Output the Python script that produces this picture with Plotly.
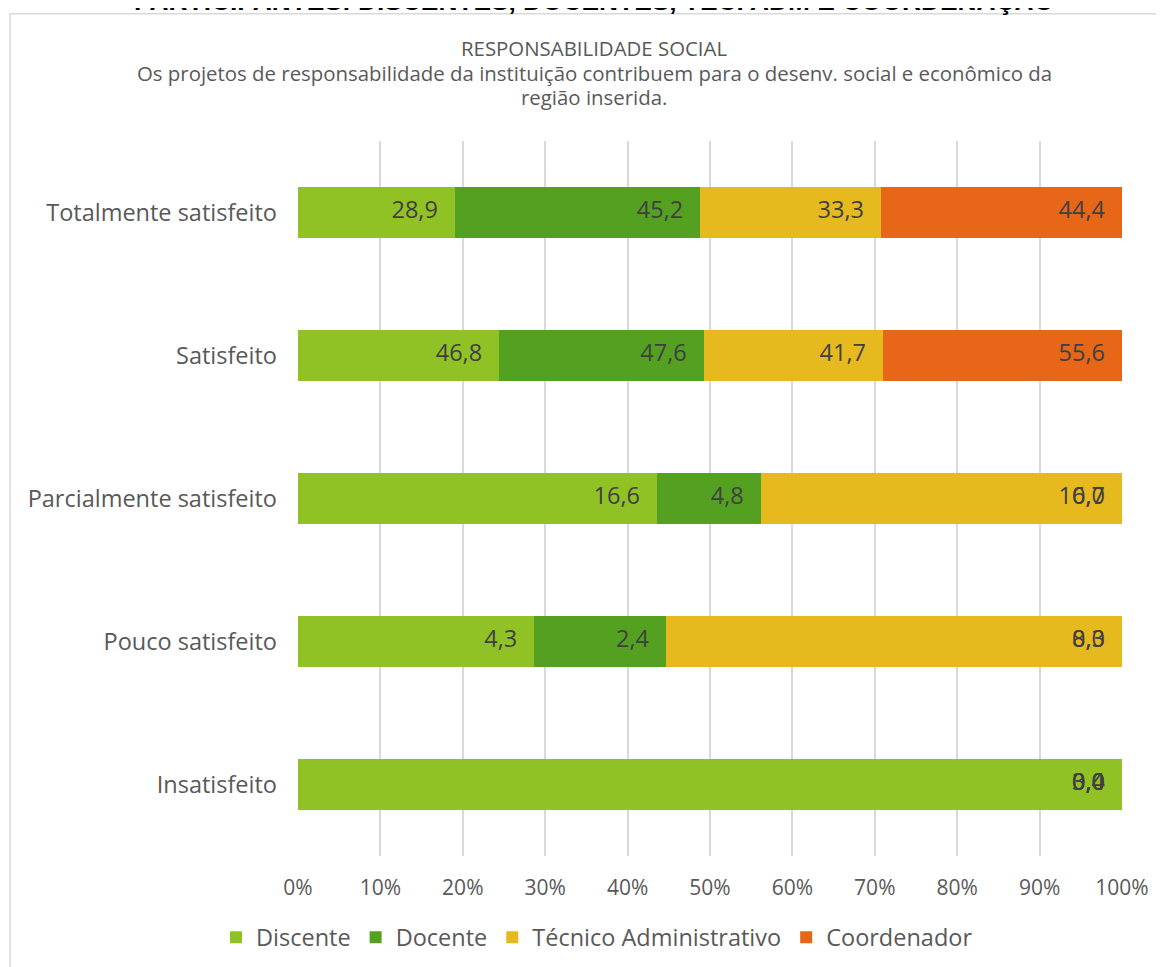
import plotly.graph_objects as go

categories = ["Totalmente satisfeito", "Satisfeito", "Parcialmente satisfeito",
              "Pouco satisfeito", "Insatisfeito"]
series_names = ["Discente", "Docente", "Técnico Administrativo", "Coordenador"]
discente = [28.9, 46.8, 16.6, 4.3, 3.4]
docente = [45.2, 47.6, 4.8, 2.4, 0.0]
tecnico = [33.3, 41.7, 16.7, 8.3, 0.0]
coordenador = [44.4, 55.6, 0.0, 0.0, 0.0]
colors = ["#90C226", "#54A021", "#E6B91E", "#E76618"]
tick_vals = [0, 10, 20, 30, 40, 50, 60, 70, 80, 90, 100]
tick_text = [f"{v}%" for v in tick_vals]

series = [discente, docente, tecnico, coordenador]

FONT = "Open Sans"
LABEL_COLOR = "#404040"
TEXT_COLOR = "#595959"

def fmt(v):
    return f"{v:.1f}".replace(".", ",")

fig = go.Figure()
for name, vals, col in zip(series_names, series, colors):
    fig.add_trace(go.Bar(
        y=categories, x=vals, name=name, orientation="h",
        marker=dict(color=col, line=dict(width=0)),
        hovertemplate="%{y}: %{x}<extra>" + name + "</extra>",
    ))

# data labels at the inside end of each stacked segment (zero segments included)
lx, ly, lt = [], [], []
for i, cat in enumerate(categories):
    total = sum(s[i] for s in series)
    cum = 0.0
    for s in series:
        cum += s[i]
        lx.append(cum / total * 100)
        ly.append(cat)
        lt.append(fmt(s[i]))
fig.add_trace(go.Scatter(
    x=lx, y=ly, text=lt, mode="markers+text", textposition="middle left",
    marker=dict(size=25.6, opacity=0),
    textfont=dict(family=FONT, size=23.5, color=LABEL_COLOR),
    showlegend=False, hoverinfo="skip",
))

W, H = 1164, 967
OFF = 8  # page body margin
# plot area in page pixels: x 298..1122, y 140.5..856.5
L = 298 - OFF
R = W - (1122 - OFF)
T = 140.5 - OFF
B = H - (856.5 - OFF)
ph = H - T - B
pw = W - L - R

def py(p):
    return (H - B - (p - OFF)) / ph

def px(p):
    return ((p - OFF) - L) / pw

fig.update_layout(
    width=W, height=H,
    margin=dict(l=L, r=R, t=T, b=B, autoexpand=False),
    barmode="stack", barnorm="percent", bargap=0.65,
    paper_bgcolor="white", plot_bgcolor="white",
    font=dict(family=FONT, color=TEXT_COLOR),
    showlegend=True,
    legend=dict(orientation="h", x=px(597), xanchor="center", y=py(938), yanchor="middle",
                traceorder="normal", font=dict(family=FONT, size=23.5, color=TEXT_COLOR),
                itemwidth=30),
    xaxis=dict(range=[0, 100], tickvals=tick_vals, ticktext=tick_text,
               showgrid=True, gridcolor="#D9D9D9", gridwidth=1.5, zeroline=False,
               showline=False, ticks="", ticklabelstandoff=17,
               tickfont=dict(family=FONT, size=21, color=TEXT_COLOR)),
    yaxis=dict(autorange="reversed", showgrid=False, zeroline=False, showline=False,
               ticks="", ticklabelstandoff=20,
               tickfont=dict(family=FONT, size=23.5, color=TEXT_COLOR)),
    shapes=[dict(type="rect", xref="paper", yref="paper",
                 x0=px(10), x1=px(1190), y0=py(1000), y1=py(13),
                 line=dict(color="#D9D9D9", width=1.5), fillcolor="rgba(0,0,0,0)",
                 layer="below")],
    annotations=[
        dict(text="<b>PARTICIPANTES: DISCENTES, DOCENTES, TÉC. ADM E COORDENAÇÃO</b>",
             xref="paper", yref="paper", x=px(594), y=py(0), xanchor="center", yanchor="middle",
             showarrow=False, font=dict(family="Liberation Sans", size=26.3, color="#000000")),
        dict(text="RESPONSABILIDADE SOCIAL", xref="paper", yref="paper",
             x=px(594), y=py(47), xanchor="center", yanchor="middle", showarrow=False,
             font=dict(family=FONT, size=20.4, color=TEXT_COLOR)),
        dict(text="Os projetos de responsabilidade da instituição contribuem para o desenv. social e econômico da",
             xref="paper", yref="paper",
             x=px(594), y=py(72), xanchor="center", yanchor="middle", showarrow=False,
             font=dict(family=FONT, size=20.4, color=TEXT_COLOR)),
        dict(text="região inserida.", xref="paper", yref="paper",
             x=px(594), y=py(96), xanchor="center", yanchor="middle", showarrow=False,
             font=dict(family=FONT, size=20.4, color=TEXT_COLOR)),
    ],
)

fig.write_html("out.html")
